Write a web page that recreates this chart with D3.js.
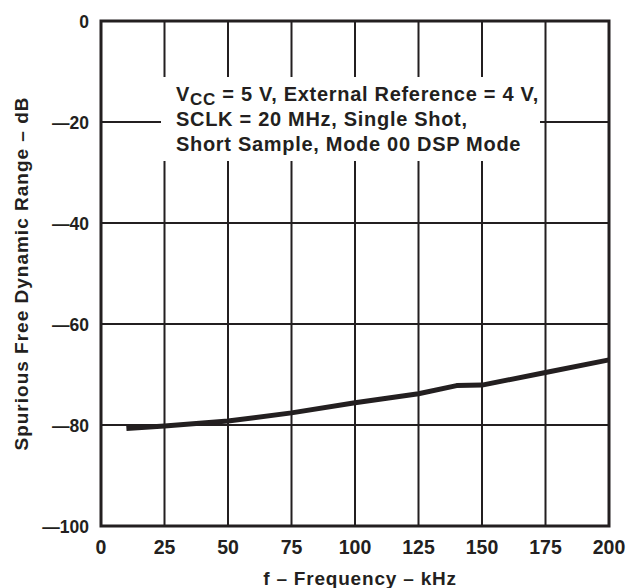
<!DOCTYPE html>
<html>
<head>
<meta charset="utf-8">
<script src="https://cdn.jsdelivr.net/npm/d3@7"></script>
<style>
  body { margin: 0; background: #fff; }
  text { font-family: "Liberation Sans", Arial, sans-serif; font-weight: bold; fill: #231f20; }
</style>
</head>
<body>
<svg id="chart" width="630" height="588"></svg>
<script>
// readings
const freqKHz = [10, 25, 40, 50, 75, 100, 125, 140, 150, 175, 200];
const sfdrDb = [-80.7, -80.2, -79.6, -79.2, -77.6, -75.6, -73.8, -72.2, -72.1, -69.6, -67.1];
const xTicks = [0, 25, 50, 75, 100, 125, 150, 175, 200];
const yTicks = [0, -20, -40, -60, -80, -100];
const noteLines = ["External Reference = 4 V,", "SCLK = 20 MHz, Single Shot,", "Short Sample, Mode 00 DSP Mode"];

const svg = d3.select("#chart");
const ink = "#231f20";
const plotL = 101, plotR = 609, plotT = 21, plotB = 526;

const x = d3.scaleLinear().domain([0, 200]).range([plotL, plotR]);
const y = d3.scaleLinear().domain([-100, 0]).range([plotB, plotT]);

// grid
svg.append("g").selectAll("line").data(xTicks).enter().append("line")
  .attr("x1", d => x(d)).attr("x2", d => x(d))
  .attr("y1", plotT).attr("y2", plotB)
  .attr("stroke", ink).attr("stroke-width", 2);
svg.append("g").selectAll("line").data(yTicks).enter().append("line")
  .attr("x1", plotL).attr("x2", plotR)
  .attr("y1", d => y(d)).attr("y2", d => y(d))
  .attr("stroke", ink).attr("stroke-width", 2);

// white box behind the note
svg.append("rect")
  .attr("x", 161).attr("y", 77).attr("width", 379).attr("height", 84)
  .attr("fill", "#fff");

// frame
svg.append("rect")
  .attr("x", plotL).attr("y", plotT).attr("width", plotR - plotL).attr("height", plotB - plotT)
  .attr("fill", "none").attr("stroke", ink).attr("stroke-width", 3);

// curve
const line = d3.line().x((d, i) => x(freqKHz[i])).y(d => y(d));
svg.append("path").datum(sfdrDb)
  .attr("d", line)
  .attr("fill", "none").attr("stroke", ink).attr("stroke-width", 5)
  .attr("stroke-linejoin", "round");

// tick labels
svg.append("g").selectAll("text").data(yTicks).enter().append("text")
  .attr("x", 89).attr("y", d => y(d) + 7)
  .attr("text-anchor", "end").attr("font-size", 17.5)
  .text(d => d < 0 ? "\u2014" + Math.abs(d) : d);
svg.append("g").selectAll("text").data(xTicks).enter().append("text")
  .attr("x", d => x(d)).attr("y", 554)
  .attr("text-anchor", "middle").attr("font-size", 19.5)
  .text(d => d);

// axis titles
svg.append("text")
  .attr("x", 360).attr("y", 585)
  .attr("text-anchor", "middle").attr("font-size", 19)
  .attr("letter-spacing", 0.8)
  .text("f \u2013 Frequency \u2013 kHz");
svg.append("text")
  .attr("transform", `translate(28,${(plotT + plotB) / 2}) rotate(-90)`)
  .attr("text-anchor", "middle").attr("font-size", 19)
  .attr("letter-spacing", 1)
  .text("Spurious Free Dynamic Range \u2013 dB");

// note
const note = svg.append("text").attr("font-size", 20).attr("letter-spacing", 0.7);
const t1 = note.append("tspan").attr("x", 176).attr("y", 101);
t1.append("tspan").text("V");
t1.append("tspan").attr("font-size", 17).attr("dy", 4).text("CC");
t1.append("tspan").attr("dy", -4).text(" = 5 V, " + noteLines[0]);
note.append("tspan").attr("x", 176).attr("y", 126).text(noteLines[1]);
note.append("tspan").attr("x", 176).attr("y", 151).text(noteLines[2]);
</script>
</body>
</html>
